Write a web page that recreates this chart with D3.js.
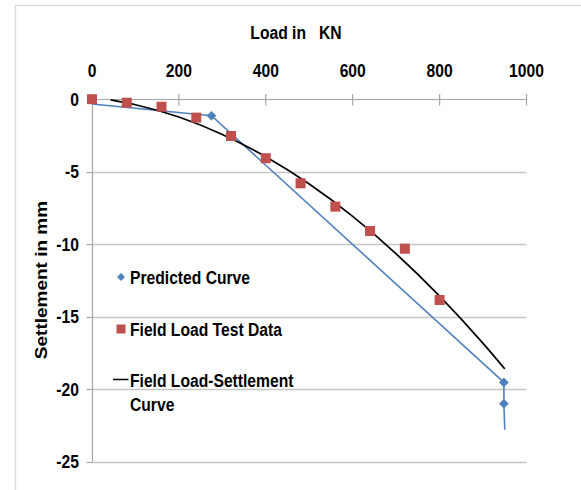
<!DOCTYPE html>
<html><head><meta charset="utf-8">
<script src="https://cdn.jsdelivr.net/npm/d3@7"></script>
<style>
html,body{margin:0;padding:0;background:#fff;}
text{font-family:"Liberation Sans",Arial,sans-serif;font-weight:bold;fill:#000;}
</style></head>
<body>
<svg id="chart" width="581" height="490"></svg>
<script>
// ---- data ----
const xTicks = [0, 200, 400, 600, 800, 1000];
const yTicks = [0, -5, -10, -15, -20, -25];

const fieldLoads = [0, 80, 160, 240, 320, 400, 480, 560, 640, 720, 800];
const fieldSettle = [0, -0.24, -0.52, -1.27, -2.54, -4.07, -5.8, -7.41, -9.09, -10.31, -13.85];

const predLoads = [0, 275, 948, 948, 950];
const predSettle = [-0.33, -1.14, -19.53, -21.0, -22.8];
const predMarked = [false, true, true, true, false];

const curveLoads = [43, 100, 200, 300, 400, 500, 600, 700, 800, 900, 950];
const curveSettle = [-0.05, -0.38, -1.23, -2.43, -3.97, -5.85, -8.08, -10.66, -13.58, -16.84, -18.6];

const legendLabels = ["Predicted Curve", "Field Load Test Data", ["Field Load-Settlement", "Curve"]];

// ---- chart ----
const svg = d3.select("#chart");
const x = d3.scaleLinear().domain([0, 1000]).range([92, 526.5]);
const y = d3.scaleLinear().domain([0, -25]).range([99.2, 461.7]);
const SX = 0.87;

svg.append("rect").attr("x", 15.5).attr("y", 5.5).attr("width", 620).attr("height", 600)
  .attr("fill", "none").attr("stroke", "#d9d9d9").attr("stroke-width", 1.3);

// gridlines
svg.append("g").selectAll("line").data(yTicks.filter(d => d !== 0)).join("line")
  .attr("x1", x(0)).attr("x2", x(1000))
  .attr("y1", d => Math.round(y(d)) + 0.5).attr("y2", d => Math.round(y(d)) + 0.5)
  .attr("stroke", "#c6c6c6").attr("stroke-width", 1.3);

// top x axis
const xa = svg.append("g");
xa.append("line").attr("x1", x(0)).attr("x2", x(1000)).attr("y1", 99.5).attr("y2", 99.5)
  .attr("stroke", "#a6a6a6").attr("stroke-width", 1.2);
xa.selectAll("line.t").data(xTicks.filter(d => d !== 0)).join("line").attr("class", "t")
  .attr("x1", d => x(d)).attr("x2", d => x(d)).attr("y1", 94).attr("y2", 105.5)
  .attr("stroke", "#a6a6a6").attr("stroke-width", 1.2);
xa.selectAll("text").data(xTicks).join("text")
  .attr("transform", d => `translate(${x(d)},76.7) scale(${SX},1)`)
  .attr("text-anchor", "middle").style("font-size", "18px").text(d => d);

// left y axis
const ya = svg.append("g");
ya.append("line").attr("x1", 92.5).attr("x2", 92.5).attr("y1", y(0)).attr("y2", y(-25))
  .attr("stroke", "#a6a6a6").attr("stroke-width", 1.2);
ya.selectAll("line.t").data(yTicks.filter(d => d !== 0)).join("line").attr("class", "t")
  .attr("x1", 86.5).attr("x2", 92.5).attr("y1", d => Math.round(y(d)) + 0.5).attr("y2", d => Math.round(y(d)) + 0.5)
  .attr("stroke", "#a6a6a6").attr("stroke-width", 1.2);
ya.selectAll("text").data(yTicks).join("text")
  .attr("transform", d => `translate(79,${y(d) + 6.5}) scale(${SX},1)`)
  .attr("text-anchor", "end").style("font-size", "18px").text(d => d);

// titles
svg.append("text").attr("transform", `translate(296,39) scale(${SX},1)`)
  .attr("text-anchor", "middle").style("font-size", "18px").attr("xml:space", "preserve")
  .text("Load in   KN");
svg.append("text").attr("transform", `translate(46.5,280) rotate(-90) scale(1,${SX})`)
  .attr("text-anchor", "middle").style("font-size", "19px").text("Settlement in mm");

// series: predicted
const predPts = predLoads.map((l, i) => [l, predSettle[i], predMarked[i]]);
const line = d3.line().x(d => x(d[0])).y(d => y(d[1]));
svg.append("path").attr("d", line(predPts)).attr("fill", "none")
  .attr("stroke", "#4f81bd").attr("stroke-width", 1.6);
const diamond = d3.symbol().type(d3.symbolDiamond2).size(60);
svg.append("g").selectAll("path").data(predPts.filter(d => d[2])).join("path")
  .attr("d", diamond).attr("transform", d => `translate(${x(d[0])},${y(d[1])})`)
  .attr("fill", "#4f81bd");

// field curve
const curvePts = curveLoads.map((l, i) => [l, curveSettle[i]]);
svg.append("path").attr("d", d3.line().curve(d3.curveMonotoneX).x(d => x(d[0])).y(d => y(d[1]))(curvePts))
  .attr("fill", "none").attr("stroke", "#000").attr("stroke-width", 1.7);

// field data squares
const fieldPts = fieldLoads.map((l, i) => [l, fieldSettle[i]]);
svg.append("g").selectAll("rect").data(fieldPts).join("rect")
  .attr("x", d => x(d[0]) - 5).attr("y", d => y(d[1]) - 5).attr("width", 10).attr("height", 10)
  .attr("fill", "#c0504d");

// legend
const lg = svg.append("g");
lg.append("path").attr("d", d3.symbol().type(d3.symbolDiamond2).size(40)())
  .attr("transform", "translate(121,277)").attr("fill", "#4f81bd");
lg.append("rect").attr("x", 116.5).attr("y", 324.5).attr("width", 9).attr("height", 9).attr("fill", "#c0504d");
lg.append("line").attr("x1", 113).attr("x2", 128.5).attr("y1", 379.5).attr("y2", 379.5)
  .attr("stroke", "#000").attr("stroke-width", 1.5);
const lgBase = [283.5, 335.5, 387];
legendLabels.forEach((lab, i) => {
  const lines = Array.isArray(lab) ? lab : [lab];
  lines.forEach((t, j) => {
    lg.append("text").attr("transform", `translate(130,${lgBase[i] + j * 23.5}) scale(${SX},1)`)
      .style("font-size", "18px").text(t);
  });
});
</script>
</body></html>
